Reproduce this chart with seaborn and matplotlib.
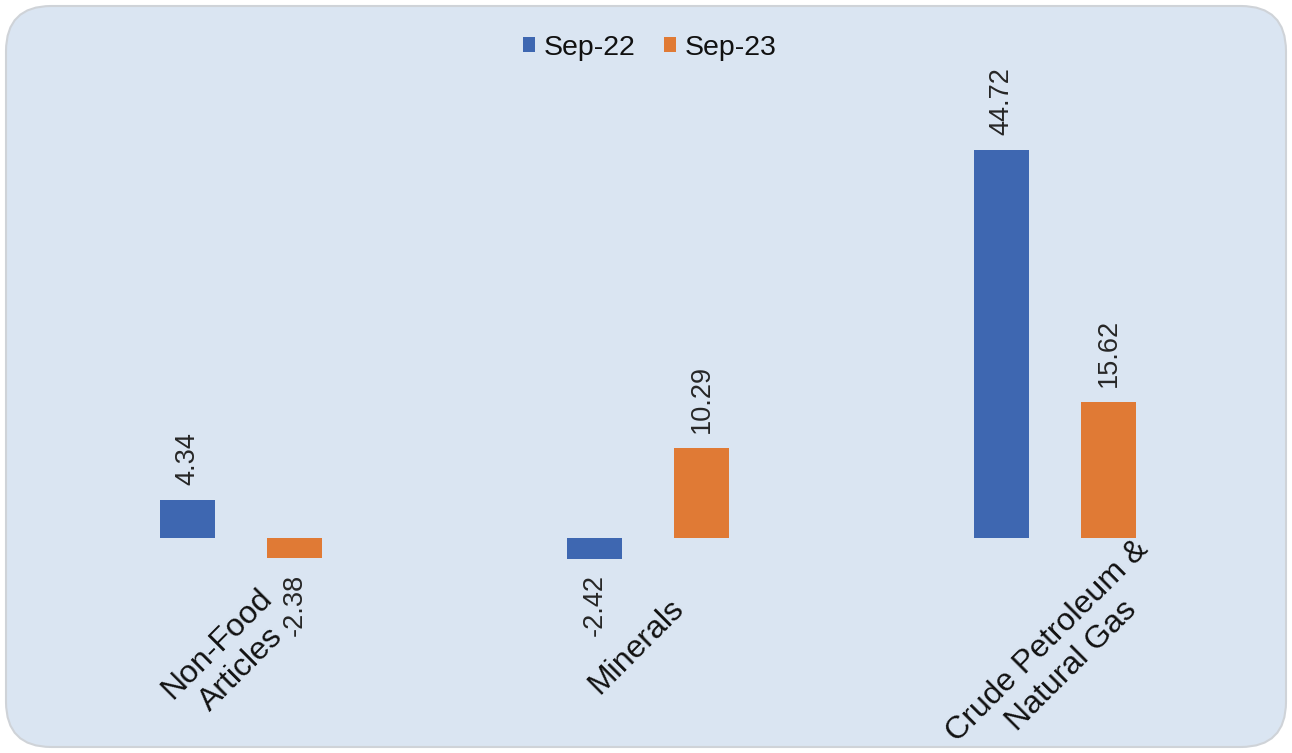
import pandas as pd
import seaborn as sns
import matplotlib.pyplot as plt
from matplotlib.patches import FancyBboxPatch
from matplotlib.transforms import ScaledTranslation

categories = ['Non-Food\nArticles', 'Minerals', 'Crude Petroleum &\nNatural Gas']
periods = ['Sep-22', 'Sep-23']
sep22 = [4.34, -2.42, 44.72]
sep23 = [-2.38, 10.29, 15.62]
colors = ['#3e67b1', '#e07a35']

df = pd.DataFrame({
    'category': categories * 2,
    'period': [periods[0]] * 3 + [periods[1]] * 3,
    'value': sep22 + sep23,
})

sns.set_theme(style='white')
plt.rcParams['font.family'] = ['Liberation Sans', 'DejaVu Sans']

fig = plt.figure(figsize=(12.92, 7.53), dpi=100, facecolor='white')

# rounded light-blue panel behind everything
panel = FancyBboxPatch((6 / 1292, 6 / 753), 1280 / 1292, 741 / 753,
                       boxstyle='round,pad=0,rounding_size=0.035',
                       transform=fig.transFigure, facecolor='#dae5f2',
                       edgecolor='#cfd3d8', linewidth=1.5, zorder=-5,
                       mutation_aspect=1292 / 753)
fig.patches.append(panel)

ax = fig.add_axes([37.5 / 1292, (753 - 581) / 753, 1221 / 1292, 477 / 753])
ax.set_facecolor('none')

sns.barplot(data=df, x='category', y='value', hue='period', palette=colors,
            width=0.526, gap=0.48, errorbar=None, linewidth=0, saturation=1,
            ax=ax)

ax.set_xlim(-0.5, 2.5)
ax.set_ylim(-5, 50)
for c in ax.containers:
    ax.bar_label(c, fmt='%.2f', rotation=90, padding=11, fontsize=19.5,
                 color='#262626')

# category labels centred on a band below the zero line (small nudges, inches)
nudge_x = [-0.12, -0.12, 0.05]
nudge_y = [-1.19, -1.09, -1.16]
for i, cat in enumerate(categories):
    off = ax.transData + ScaledTranslation(nudge_x[i], nudge_y[i],
                                           fig.dpi_scale_trans)
    ax.text(i, 0, cat, transform=off, rotation=45, ha='center', va='center',
            multialignment='center', fontsize=23, color='#111111',
            linespacing=1.2, clip_on=False)

ax.set_xticks([])
ax.set_yticks([])
ax.set_xlabel('')
ax.set_ylabel('')
sns.despine(ax=ax, left=True, bottom=True)

ax.legend_.remove()
handles, labels = ax.get_legend_handles_labels()
fig.legend(handles, labels, loc='center', bbox_to_anchor=(0.503, 1 - 48 / 753),
           ncol=2, frameon=False, fontsize=20.5, handlelength=0.42,
           handleheight=0.42, handletextpad=0.3, columnspacing=1.0,
           labelcolor='#111111')

fig.savefig('out.png', dpi=100, facecolor='white')
